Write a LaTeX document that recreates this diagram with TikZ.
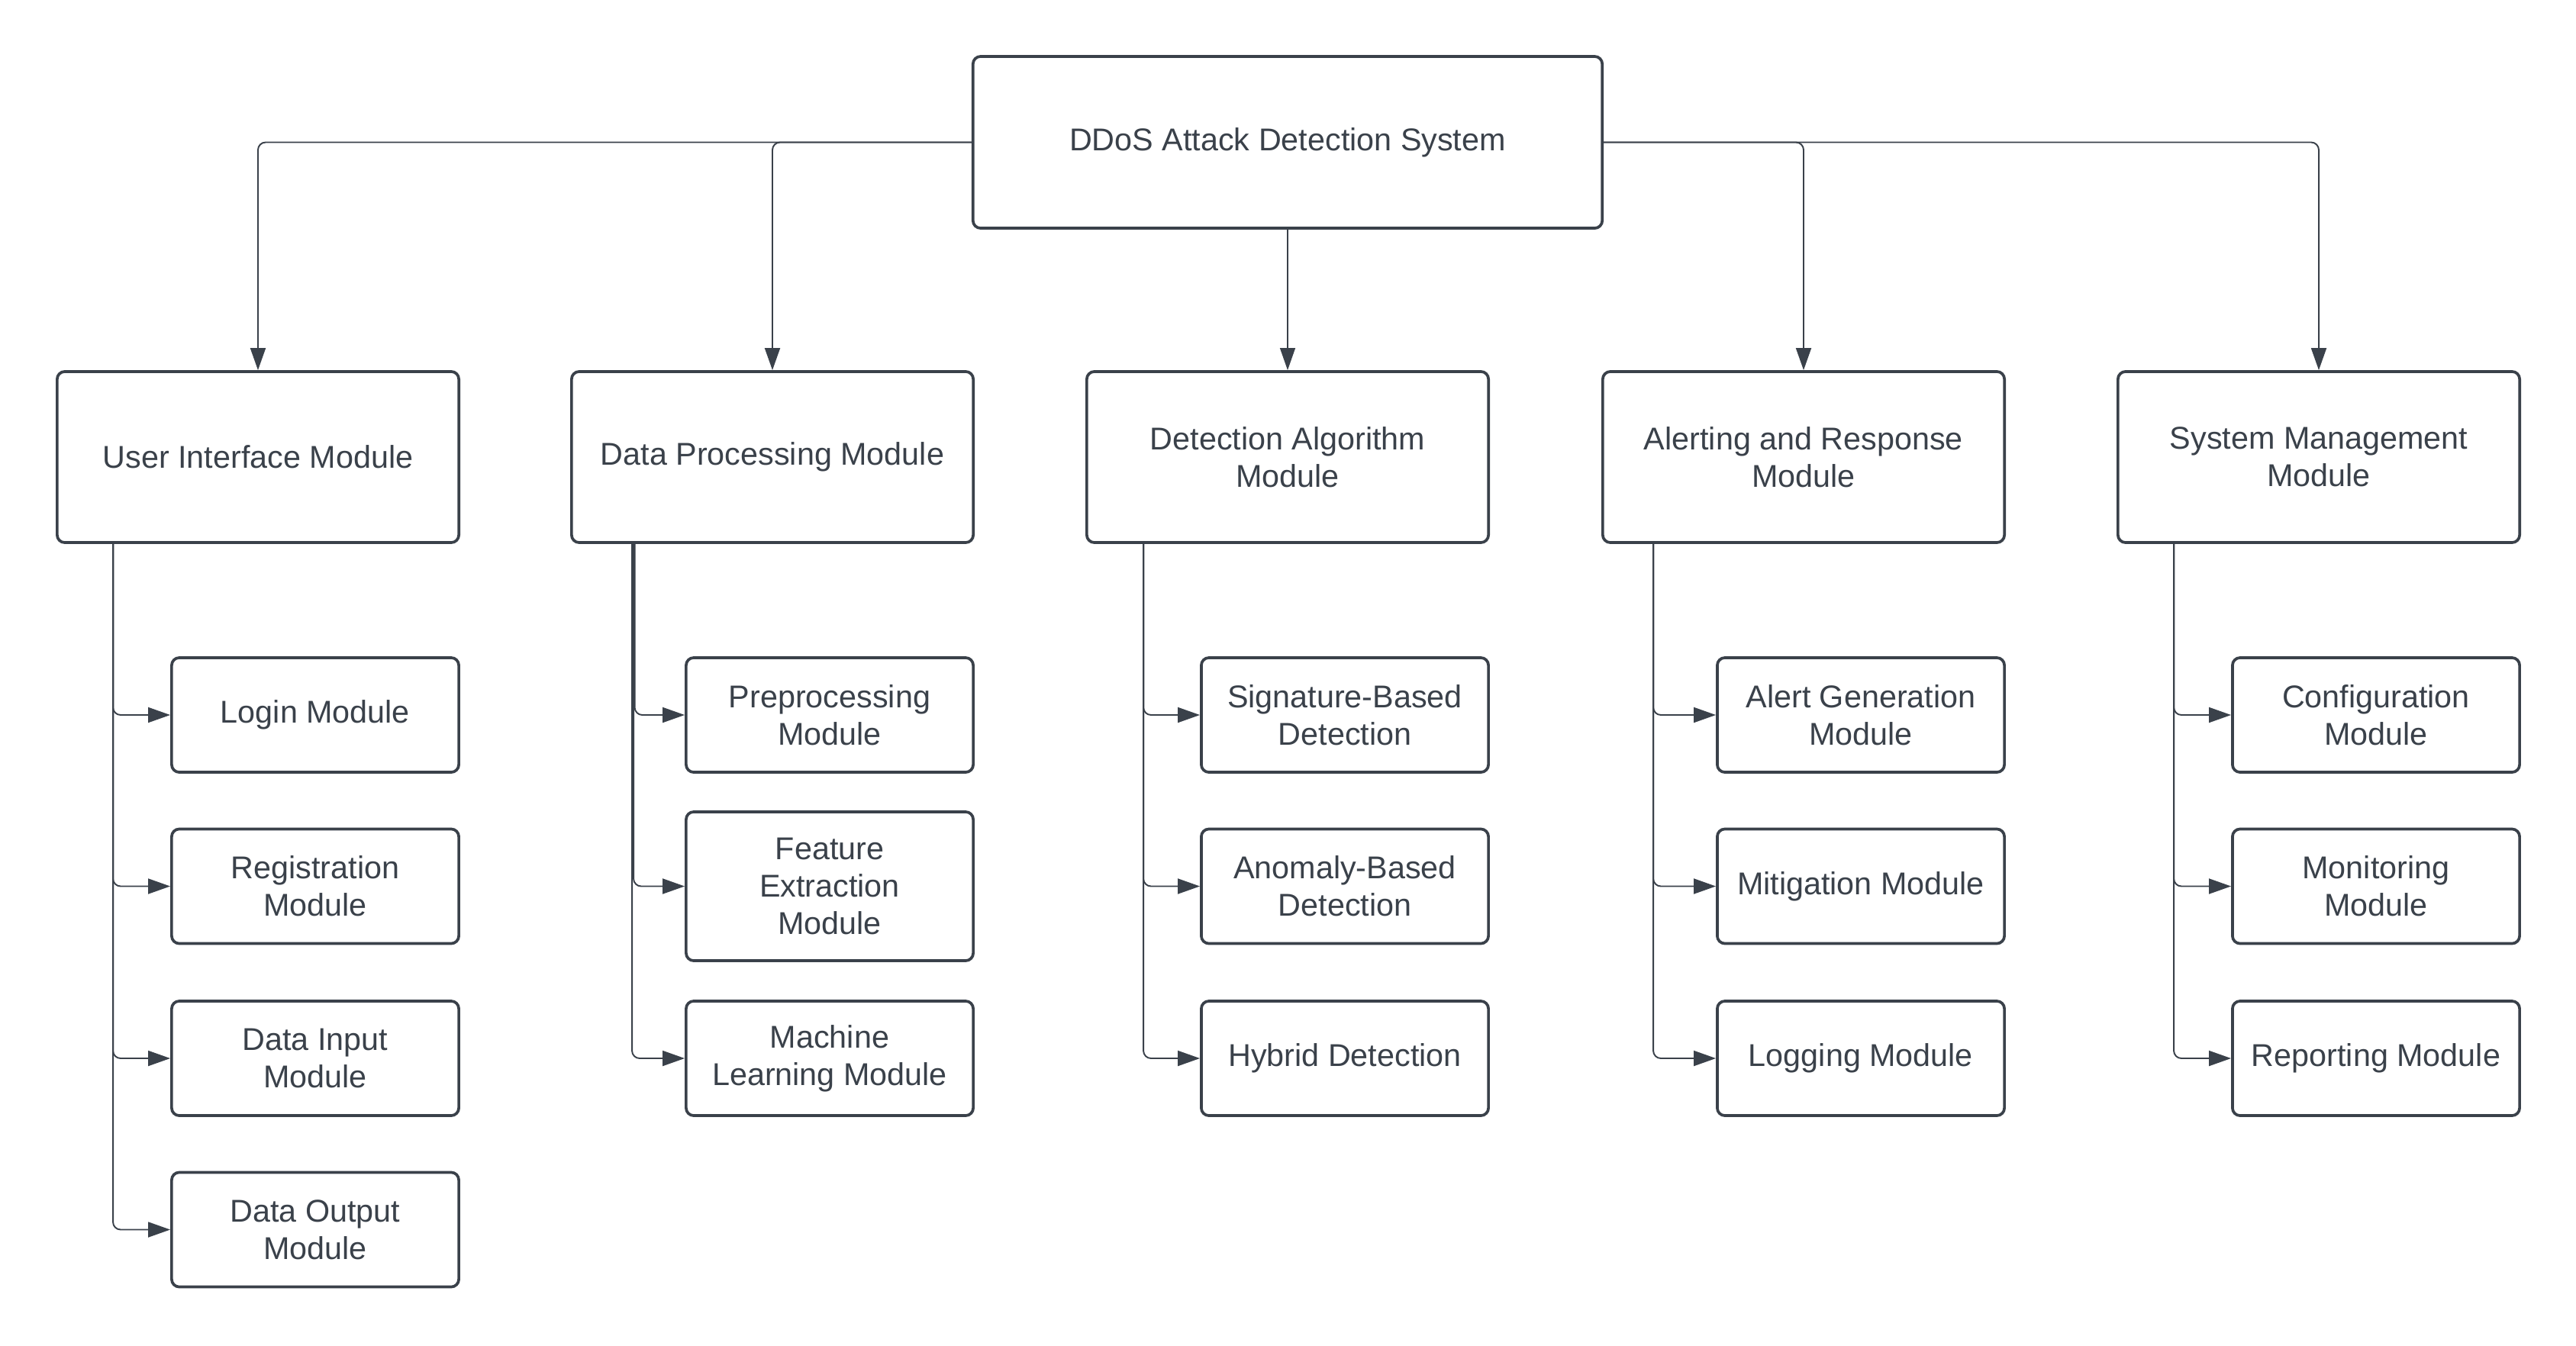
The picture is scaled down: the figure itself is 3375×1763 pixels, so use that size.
\documentclass[tikz,border=0pt]{standalone}
\usepackage{fontspec}
\setmainfont{Liberation Sans}
\usetikzlibrary{arrows.meta}
\definecolor{ink}{RGB}{58,65,74}
\begin{document}
\begin{tikzpicture}[x=0.01cm,y=-0.01cm,
  box/.style={draw=ink, line width=1.05pt, rounded corners=0.1cm, fill=white, align=center, text=ink, font=\fontsize{11.75pt}{13.9pt}\selectfont, inner sep=0pt},
  mainbox/.style={box, minimum width=5.26cm, minimum height=2.24cm},
  subbox/.style={box, minimum width=3.76cm, minimum height=1.5cm},
  conn/.style={draw=ink, line width=0.55pt, rounded corners=0.1cm, -{Triangle[length=0.29cm,width=0.2cm]}}
]
\useasboundingbox (0,0) rectangle (3375,1763);
\fill[white] (0,0) rectangle (3375,1763);

% top
\node[box, minimum width=8.24cm, minimum height=2.25cm] (top) at (1687,186.5) {DDoS Attack Detection System};

% modules
\node[mainbox] (ui) at (338,599) {User Interface Module};
\node[mainbox] (dp) at (1012,599) {Data Processing Module};
\node[mainbox] (da) at (1687,599) {Detection Algorithm\\Module};
\node[mainbox] (ar) at (2363,599) {Alerting and Response\\Module};
\node[mainbox] (sm) at (3038,599) {System Management\\Module};

% UI children
\node[subbox] (login) at (413,937) {Login Module};
\node[subbox] (reg) at (413,1161.5) {Registration\\Module};
\node[subbox] (din) at (413,1387) {Data Input\\Module};
\node[subbox] (dout) at (413,1611.5) {Data Output\\Module};

% DP children
\node[subbox] (pre) at (1087,937) {Preprocessing\\Module};
\node[subbox, minimum height=1.95cm] (fe) at (1087,1161.5) {Feature\\Extraction\\Module};
\node[subbox] (ml) at (1087,1387) {Machine\\Learning Module};

% DA children
\node[subbox] (sig) at (1762,937) {Signature-Based\\Detection};
\node[subbox] (ano) at (1762,1161.5) {Anomaly-Based\\Detection};
\node[subbox] (hyb) at (1762,1387) {Hybrid Detection};

% AR children
\node[subbox] (alg) at (2438,937) {Alert Generation\\Module};
\node[subbox] (mit) at (2438,1161.5) {Mitigation Module};
\node[subbox] (logm) at (2438,1387) {Logging Module};

% SM children
\node[subbox] (cfg) at (3113,937) {Configuration\\Module};
\node[subbox] (mon) at (3113,1161.5) {Monitoring\\Module};
\node[subbox] (rep) at (3113,1387) {Reporting Module};

% top-level connectors
\draw[conn] (top.west) -| (ui.north);
\draw[conn] (top.west) -| (dp.north);
\draw[conn, line width=0.35pt] (top.south) -- (da.north);
\draw[conn] (top.east) -| (ar.north);
\draw[conn] (top.east) -| (sm.north);

% UI branch
\draw[conn] ([xshift=0.75cm]ui.south west) |- (login.west);
\draw[conn] ([xshift=0.75cm]ui.south west) |- (reg.west);
\draw[conn] ([xshift=0.75cm]ui.south west) |- (din.west);
\draw[conn] ([xshift=0.75cm]ui.south west) |- (dout.west);

% DP branch
\draw[conn] ([xshift=0.845cm]dp.south west) |- (pre.west);
\draw[conn] ([xshift=0.83cm]dp.south west) |- (fe.west);
\draw[conn] ([xshift=0.81cm]dp.south west) |- (ml.west);

% DA branch
\draw[conn] ([xshift=0.76cm]da.south west) |- (sig.west);
\draw[conn] ([xshift=0.76cm]da.south west) |- (ano.west);
\draw[conn] ([xshift=0.76cm]da.south west) |- (hyb.west);

% AR branch
\draw[conn] ([xshift=0.68cm]ar.south west) |- (alg.west);
\draw[conn] ([xshift=0.68cm]ar.south west) |- (mit.west);
\draw[conn] ([xshift=0.68cm]ar.south west) |- (logm.west);

% SM branch
\draw[conn] ([xshift=0.75cm]sm.south west) |- (cfg.west);
\draw[conn] ([xshift=0.75cm]sm.south west) |- (mon.west);
\draw[conn] ([xshift=0.75cm]sm.south west) |- (rep.west);
\end{tikzpicture}
\end{document}
